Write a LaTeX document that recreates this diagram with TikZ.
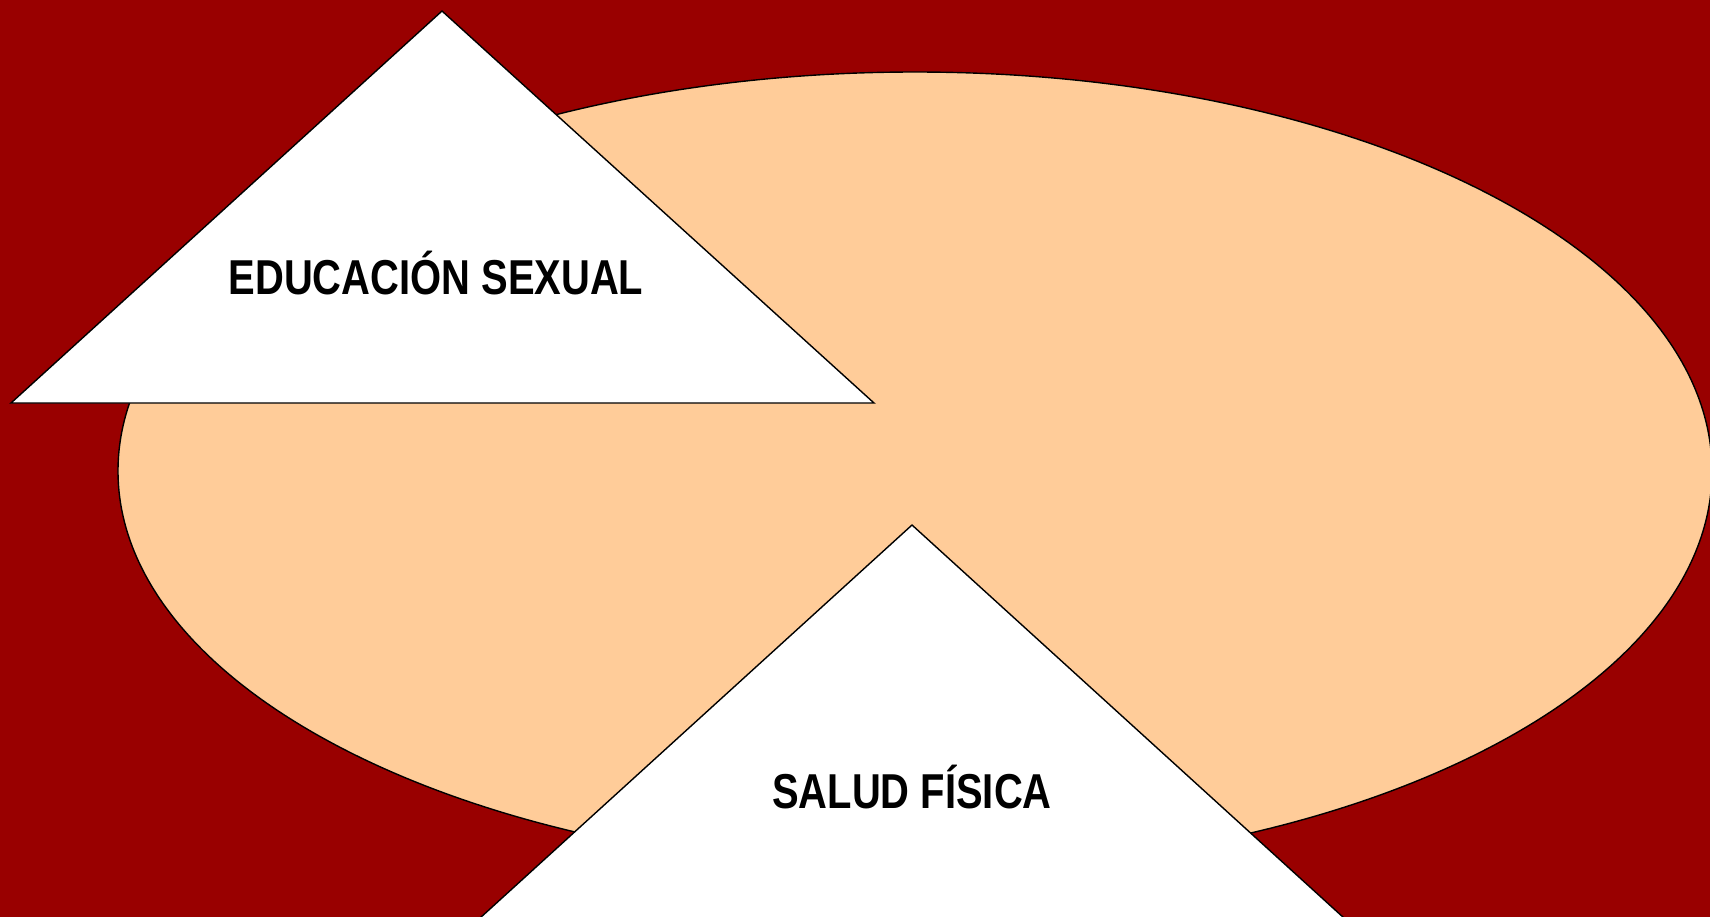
\documentclass[tikz,border=0pt]{standalone}
\usepackage{fontspec}
\usepackage{graphicx}
\setmainfont{Liberation Sans}
\definecolor{bgred}{HTML}{990000}
\definecolor{peach}{HTML}{FFCC99}
\begin{document}
\begin{tikzpicture}[x=1pt,y=-1pt,
  tri/.style={fill=white,draw=black,line width=1.4pt,line join=miter},
  lbl/.style={font=\bfseries\fontsize{49}{49}\selectfont,inner sep=0pt,anchor=base}]
\useasboundingbox (0,0) rectangle (1710,916);
\fill[bgred] (-2,-2) rectangle (1712,918);
\begin{scope}
\clip (0,0) rectangle (1710,916);
\draw[fill=peach,draw=black,line width=1.4pt] (915,471) ellipse [x radius=797, y radius=399];
\draw[tri] (442,11) -- (874,403) -- (11,403) -- cycle;
\draw[tri] (912,525) -- (1344,918) -- (480,918) -- cycle;
\end{scope}
\node[lbl] (edu) at (436,294) {\scalebox{0.815}[1]{EDUCACIÓN SEXUAL}};
\node[lbl] (sal) at (912,808) {\scalebox{0.815}[1]{SALUD FÍSICA}};
\end{tikzpicture}
\end{document}
